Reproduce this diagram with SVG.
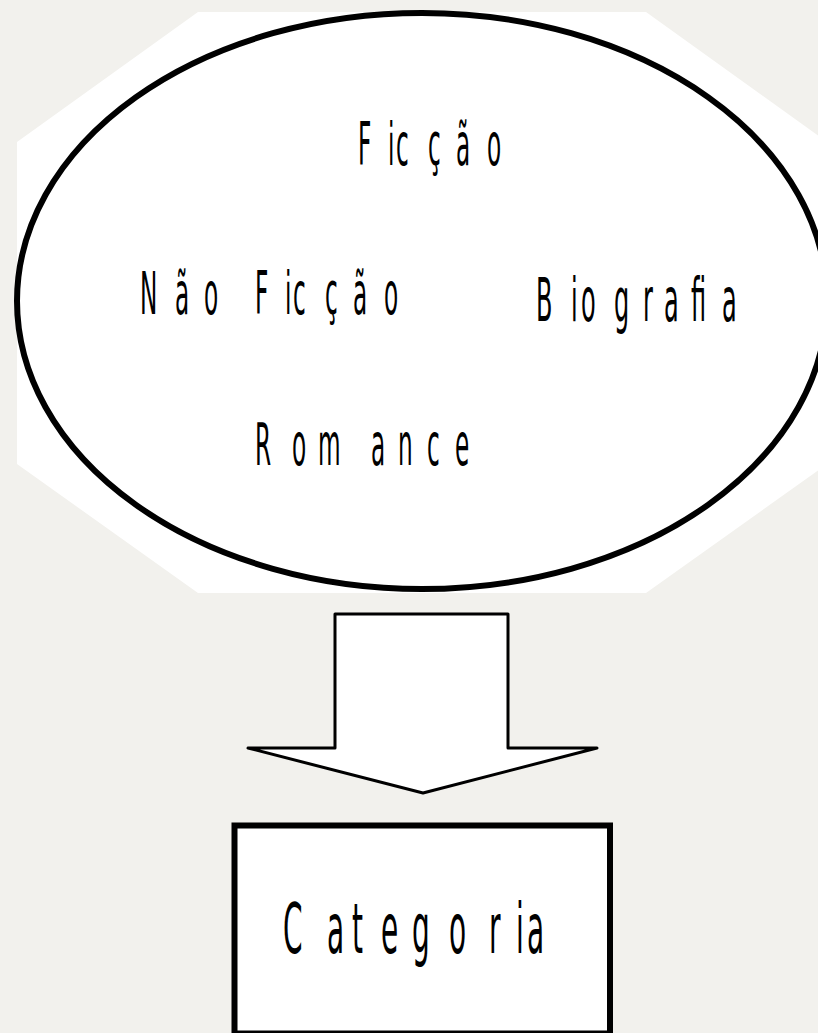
<svg xmlns="http://www.w3.org/2000/svg" width="818" height="1033" viewBox="0 0 818 1033">
<style>
.lbl{font-family:"DejaVu Sans","Liberation Sans",sans-serif;fill:#000}
</style>
<rect x="0" y="0" width="818" height="1033" fill="#f2f1ed"/>
<g id="node-generos">
<polygon points="198,12 646,12 827,142 827,464 646,593 198,593 17,464 17,142" fill="#ffffff"/>
<ellipse cx="422" cy="301" rx="405" ry="288" fill="#ffffff" stroke="#000" stroke-width="6"/>
<g transform="scale(0.4,1)">
<text class="lbl" font-size="58" y="165" x="895 970 990 1070 1140 1217.5">Ficção</text>
<text class="lbl" font-size="58" y="314"><tspan x="350">N</tspan><tspan x="437.5">ã</tspan><tspan x="510">o</tspan><tspan x="637.5">F</tspan><tspan x="712.5">i</tspan><tspan x="732.5">c</tspan><tspan x="812.5">ç</tspan><tspan x="882.5">ã</tspan><tspan x="960">o</tspan></text>
<text class="lbl" font-size="60" y="321"><tspan x="1340">B</tspan><tspan x="1427.5">i</tspan><tspan x="1452.5">o</tspan><tspan x="1535">g</tspan><tspan x="1607.5">r</tspan><tspan x="1660">a</tspan><tspan x="1727.5">fi</tspan><tspan x="1805">a</tspan></text>
<text class="lbl" font-size="58" y="465" x="637.5 730 795 927.5 995 1067.5 1137.5">Romance</text>
</g>
</g>
<g id="connectors">
<polygon points="335,614 508,614 508,748 597,748 423,793 248,748 335,748" fill="#ffffff" stroke="#000" stroke-width="3" stroke-linejoin="round"/>
</g>
<g id="node-categoria">
<rect x="234.5" y="825.5" width="375.5" height="208" fill="#ffffff" stroke="#000" stroke-width="6"/>
<g transform="scale(0.4,1)">
<text class="lbl" font-size="70" y="953" x="707.5 817.5 880 952.5 1030 1122.5 1222.5 1290 1317.5">Categoria</text>
</g>
</g>
</svg>
